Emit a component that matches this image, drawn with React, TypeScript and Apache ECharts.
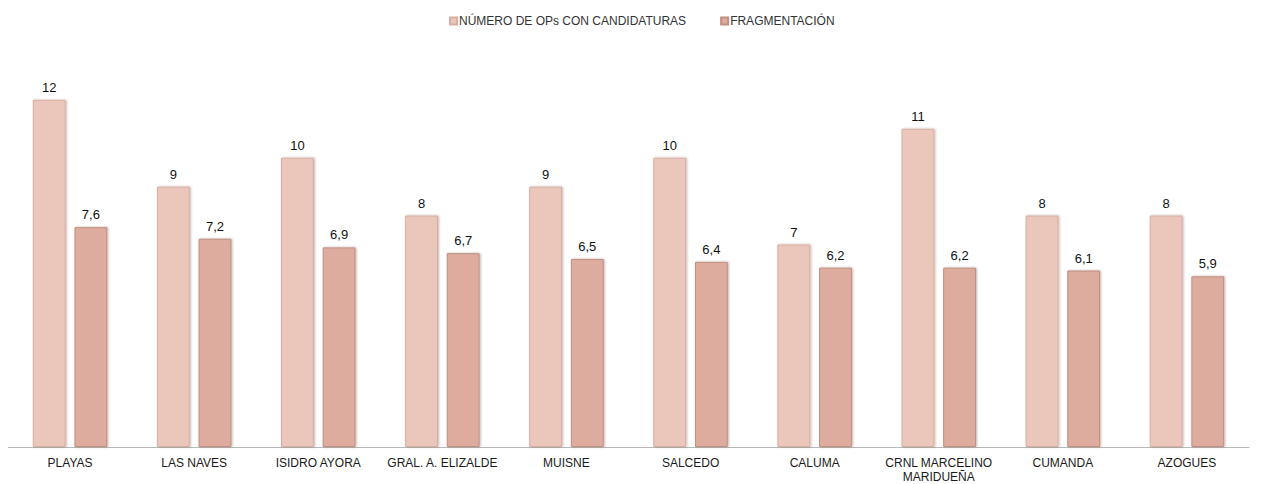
import React, { useEffect, useRef } from "react";
import * as echarts from "echarts";

const categories = [
  "PLAYAS",
  "LAS NAVES",
  "ISIDRO AYORA",
  "GRAL. A. ELIZALDE",
  "MUISNE",
  "SALCEDO",
  "CALUMA",
  "CRNL MARCELINO\nMARIDUEÑA",
  "CUMANDA",
  "AZOGUES",
];
const numeroOPs = [12, 9, 10, 8, 9, 10, 7, 11, 8, 8];
const fragmentacion = [7.6, 7.2, 6.9, 6.7, 6.5, 6.4, 6.2, 6.2, 6.1, 5.9];
const seriesNames = ["NÚMERO DE OPs CON CANDIDATURAS", "FRAGMENTACIÓN"];

export default function App() {
  const ref = useRef<HTMLDivElement>(null);
  useEffect(() => {
    if (!ref.current) return;
    const chart = echarts.init(ref.current, undefined, { renderer: "svg" });
    const font = "'Liberation Sans', Arial, sans-serif";
    const barStyle = (c: string, b: string) => ({
      color: c,
      borderColor: b,
      borderWidth: 1,
      shadowColor: "rgba(80,40,30,0.35)",
      shadowBlur: 2,
      shadowOffsetX: 1,
      shadowOffsetY: 0,
    });
    chart.setOption({
      animation: false,
      backgroundColor: "#fff",
      textStyle: { fontFamily: font },
      legend: {
        top: 10,
        left: 436,
        itemWidth: 7,
        itemHeight: 7,
        itemGap: 34,
        icon: "rect",
        textStyle: { fontSize: 12, color: "#333", fontFamily: font, padding: [0, 0, 0, -3] },
        data: seriesNames,
      },
      grid: { left: 0, right: 6, top: 42, bottom: 36, containLabel: false },
      xAxis: {
        type: "category",
        data: categories,
        axisLine: { lineStyle: { color: "#b8b8b8", width: 1 } },
        axisTick: { show: false },
        axisLabel: {
          color: "#1a1a1a",
          fontSize: 12,
          fontFamily: font,
          margin: 9,
          interval: 0,
          lineHeight: 14,
        },
      },
      yAxis: {
        type: "value",
        min: 0,
        max: 14,
        show: false,
        splitLine: { show: false },
      },
      series: [
        {
          name: seriesNames[0],
          type: "bar",
          data: numeroOPs,
          barGap: "27%",
          barCategoryGap: "40%",
          itemStyle: barStyle("#EBC6BB", "#d9aea2"),
          label: {
            show: true,
            position: "top",
            distance: 6,
            color: "#111",
            fontSize: 13,
            fontFamily: font,
          },
        },
        {
          name: seriesNames[1],
          type: "bar",
          data: fragmentacion,
          itemStyle: barStyle("#DEAC9F", "#c08f82"),
          label: {
            show: true,
            position: "top",
            distance: 6,
            color: "#111",
            fontSize: 13,
            fontFamily: font,
            formatter: (p: any) => String(p.value).replace(".", ","),
          },
        },
      ],
    });
    return () => chart.dispose();
  }, []);
  return <div ref={ref} style={{ width: 1247, height: 484, marginTop: -8 }} />;
}
